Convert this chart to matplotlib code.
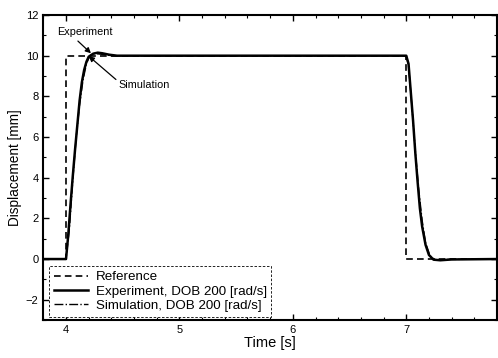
#!/usr/bin/env python3
"""Step response: reference vs experiment vs simulation (DOB 200 rad/s)."""

import matplotlib
matplotlib.use("Agg")
import matplotlib.pyplot as plt
from matplotlib.ticker import MultipleLocator

plt.rcParams["font.family"] = ["Liberation Sans", "DejaVu Sans"]

# reference step command
ref_t = [3.8, 4.0, 4.0, 7.0, 7.0, 7.8]
ref_y = [0, 0, 10, 10, 0, 0]

# measured response, DOB 200 rad/s
exp_t = [3.8, 4.0, 4.02, 4.04, 4.06, 4.08, 4.10, 4.12, 4.14, 4.16, 4.18, 4.20, 4.24,
         4.28, 4.32, 4.38, 4.45, 7.0, 7.02, 7.04, 7.06, 7.08, 7.10, 7.12, 7.14,
         7.17, 7.20, 7.24, 7.30, 7.40, 7.8]
exp_y = [0, 0, 1.2, 2.7, 4.1, 5.4, 6.6, 7.8, 8.7, 9.3, 9.7, 9.95, 10.1,
         10.15, 10.12, 10.05, 10.0, 10.0, 9.6, 8.2, 6.8, 5.2, 3.8, 2.5, 1.6,
         0.7, 0.2, -0.03, -0.06, -0.02, 0.0]

# simulated response, DOB 200 rad/s
sim_t = [3.8, 4.0, 4.03, 4.06, 4.09, 4.12, 4.15, 4.18, 4.21, 4.25, 4.30, 4.40,
         7.0, 7.02, 7.05, 7.08, 7.11, 7.14, 7.17, 7.21, 7.26, 7.35, 7.8]
sim_y = [0, 0, 1.5, 3.9, 6.0, 7.6, 8.8, 9.6, 10.0, 10.1, 10.08, 10.0,
         10.0, 9.5, 7.5, 5.3, 3.4, 1.9, 0.8, 0.15, -0.05, -0.02, 0.0]

fig = plt.figure(figsize=(4.98, 3.58), dpi=100)
ax = fig.add_axes([0.087, 0.106, 0.911, 0.852])

ax.plot(ref_t, ref_y, color="black", lw=1.2, ls=(0, (4, 2.5)), label="Reference")
ax.plot(exp_t, exp_y, color="black", lw=1.8, label="Experiment, DOB 200 [rad/s]")
ax.plot(sim_t, sim_y, color="black", lw=1.0, ls="-.", label="Simulation, DOB 200 [rad/s]")

ax.set_xlim(3.8, 7.8)
ax.set_ylim(-3, 12)
ax.xaxis.set_major_locator(MultipleLocator(1))
ax.xaxis.set_minor_locator(MultipleLocator(0.2))
ax.yaxis.set_major_locator(MultipleLocator(2))
ax.yaxis.set_minor_locator(MultipleLocator(1))
ax.tick_params(which="both", direction="in", top=True, right=True, labelsize=8)
ax.tick_params(which="major", length=4, width=1)
ax.tick_params(which="minor", length=2.5, width=0.8)
for sp in ax.spines.values():
    sp.set_linewidth(1.5)

ax.set_xlabel("Time [s]", fontsize=10.5, labelpad=1)
ax.set_ylabel("Displacement [mm]", fontsize=9.8, labelpad=3)

# callouts
ax.text(3.92, 11.16, "Experiment", fontsize=7.8, va="center", ha="left")
ax.annotate("", xy=(4.22, 10.12), xytext=(4.105, 10.72),
            arrowprops=dict(arrowstyle="-|>", color="black", lw=0.9,
                            shrinkA=0, shrinkB=0, mutation_scale=8))
ax.text(4.46, 8.58, "Simulation", fontsize=7.8, va="center", ha="left")
ax.annotate("", xy=(4.20, 9.98), xytext=(4.44, 8.83),
            arrowprops=dict(arrowstyle="-|>", color="black", lw=0.9,
                            shrinkA=0, shrinkB=0, mutation_scale=8))

leg = ax.legend(loc="lower left", bbox_to_anchor=(0.005, 0.0), fontsize=9.6,
                fancybox=False, edgecolor="black", framealpha=1, handlelength=2.6,
                borderaxespad=0.25, labelspacing=0.15, handletextpad=0.55,
                borderpad=0.35)
leg.get_frame().set_linewidth(0.6)
leg.get_frame().set_linestyle((0, (3, 2)))

fig.savefig("out.png", dpi=100)
